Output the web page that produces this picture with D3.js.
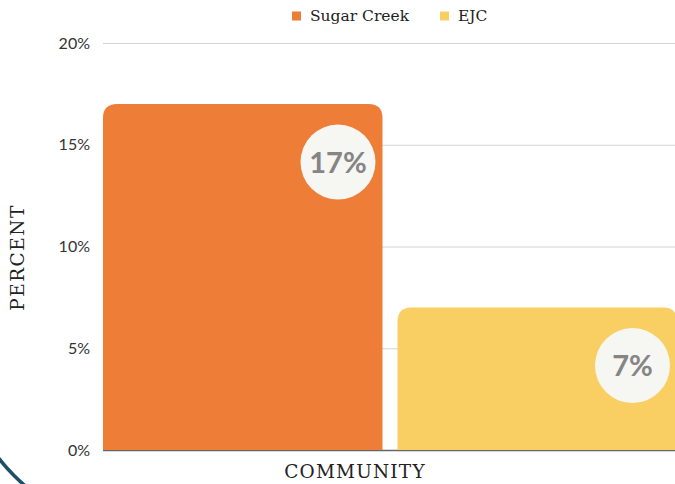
<!DOCTYPE html>
<html>
<head>
<meta charset="utf-8">
<script src="https://cdn.jsdelivr.net/npm/d3@7"></script>
<style>
  html, body { margin: 0; padding: 0; background: #fff; }
  svg { display: block; }
</style>
</head>
<body>
<div id="chart"></div>
<script>
const categories = ["COMMUNITY"];
const seriesNames = ["Sugar Creek", "EJC"];
const seriesValues = [17, 7];
const seriesColors = ["#ED7D37", "#F9CF63"];
const yTicks = [0, 5, 10, 15, 20];
const yTickLabels = ["0%", "5%", "10%", "15%", "20%"];

const W = 675, H = 484;
const margin = { left: 103, right: -2, top: 43, bottom: 34 };
const svg = d3.select("#chart").append("svg").attr("width", W).attr("height", H);

const y = d3.scaleLinear().domain([0, 20]).range([H - margin.bottom, margin.top]);
const x0 = d3.scaleBand().domain(categories).range([margin.left, W - margin.right]).padding(0);
const x1 = d3.scaleBand().domain(seriesNames).range([0, x0.bandwidth()]).paddingInner(0.051);

// decorative arc bottom-left
svg.append("defs").append("clipPath").attr("id", "cornerClip")
  .append("rect").attr("x", 0).attr("y", 440).attr("width", 60).attr("height", 44);
svg.append("circle").attr("cx", 150).attr("cy", 340).attr("r", 192)
  .attr("fill", "none").attr("stroke", "#1D4F66").attr("stroke-width", 3.5)
  .attr("clip-path", "url(#cornerClip)");

// gridlines
svg.append("g").selectAll("line").data(yTicks.filter(d => d > 0)).join("line")
  .attr("x1", margin.left).attr("x2", W)
  .attr("y1", d => y(d) + 0.5).attr("y2", d => y(d) + 0.5)
  .attr("stroke", "#d4d4d4").attr("stroke-width", 1);

// y tick labels
const yAxis = d3.axisLeft(y).tickValues(yTicks).tickFormat((d, i) => yTickLabels[i]).tickSize(0).tickPadding(0);
const ya = svg.append("g").attr("transform", `translate(90,0)`).call(yAxis);
ya.select(".domain").remove();
ya.selectAll("text").attr("font-family", "Lato, 'Noto Sans', sans-serif").attr("font-size", 16)
  .attr("fill", "#333").attr("dy", "0.32em");

// baseline
svg.append("line").attr("x1", margin.left).attr("x2", W)
  .attr("y1", y(0) + 0.5).attr("y2", y(0) + 0.5).attr("stroke", "#666").attr("stroke-width", 1.5);

// bars with rounded top corners
const r = 14;
function topRounded(x, yTop, w, yBot, rad) {
  return `M${x},${yBot}V${yTop + rad}Q${x},${yTop} ${x + rad},${yTop}H${x + w - rad}Q${x + w},${yTop} ${x + w},${yTop + rad}V${yBot}Z`;
}
const bars = seriesNames.map((s, i) => ({ name: s, value: seriesValues[i], color: seriesColors[i], cat: categories[0] }));
const g = svg.append("g");
g.selectAll("path.bar").data(bars).join("path").attr("class", "bar")
  .attr("d", d => topRounded(x0(d.cat) + x1(d.name), y(d.value), x1.bandwidth(), y(0), r))
  .attr("fill", d => d.color);

// value badges
const badges = g.selectAll("g.badge").data(bars).join("g").attr("class", "badge")
  .attr("transform", d => `translate(${x0(d.cat) + x1(d.name) + x1.bandwidth() - 44.5},${y(d.value) + 58})`);
badges.append("circle").attr("r", 37.5).attr("fill", "#F6F6F2");
badges.append("text").text(d => d.value + "%")
  .attr("text-anchor", "middle").attr("dy", "0.36em")
  .attr("font-family", "Lato, 'Noto Sans', sans-serif").attr("font-weight", 700)
  .attr("font-size", 29).attr("fill", "#858585");

// legend
const legend = svg.append("g").attr("transform", "translate(292,16)");
const legendX = [0, 148];
const li = legend.selectAll("g").data(seriesNames).join("g")
  .attr("transform", (d, i) => `translate(${legendX[i]},0)`);
li.append("rect").attr("x", 0).attr("y", -4.5).attr("width", 9).attr("height", 9)
  .attr("fill", (d, i) => seriesColors[i]);
li.append("text").text(d => d).attr("x", 18).attr("dy", "0.35em")
  .attr("font-family", "'DejaVu Serif', serif").attr("font-size", 15.5).attr("fill", "#222");

// axis titles
svg.append("text").text(categories[0])
  .attr("x", 355).attr("y", 478).attr("text-anchor", "middle")
  .attr("font-family", "'DejaVu Serif', serif").attr("font-size", 18.5).attr("letter-spacing", 1.2).attr("fill", "#222");
svg.append("text").text("PERCENT")
  .attr("transform", `translate(24,${y(10)+11}) rotate(-90)`).attr("text-anchor", "middle")
  .attr("font-family", "'DejaVu Serif', serif").attr("font-size", 18.5).attr("letter-spacing", 1.5).attr("fill", "#222");
</script>
</body>
</html>
